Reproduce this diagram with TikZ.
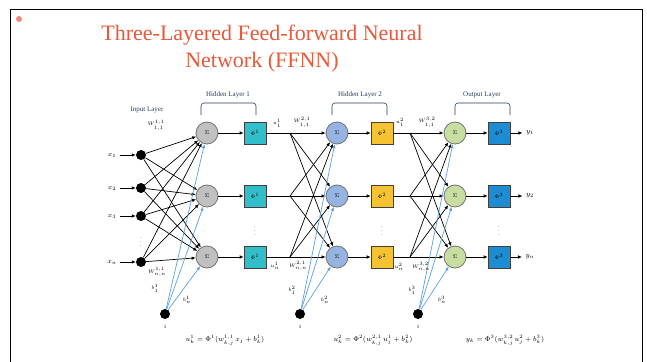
\documentclass[tikz,border=0pt]{standalone}
\usepackage{fontspec}
\setmainfont{Liberation Serif}
\usetikzlibrary{arrows.meta}

\definecolor{titlered}{RGB}{232,88,58}
\definecolor{labelblue}{RGB}{40,60,95}
\definecolor{sumgray}{RGB}{192,192,192}
\definecolor{sumblue}{RGB}{150,180,225}
\definecolor{sumgreen}{RGB}{200,222,160}
\definecolor{phiteal}{RGB}{50,190,200}
\definecolor{phiyellow}{RGB}{245,195,50}
\definecolor{phiblue}{RGB}{30,140,210}
\definecolor{biasblue}{RGB}{90,160,225}

\begin{document}
\begin{tikzpicture}[x=1pt, y=-1pt,
      every node/.style={font=\tiny},
      sumnode/.style={circle, draw=black!55, line width=.8pt, minimum size=22pt, inner sep=0pt},
      phibox/.style={draw=black!75, line width=.6pt, minimum size=22pt, inner sep=0pt},
      dotnode/.style={circle, fill=black, minimum size=10pt, inner sep=0pt},
      wire/.style={line width=.7pt, -{Latex[length=4pt, width=3.5pt]}},
      biaswire/.style={biasblue, line width=.7pt, -{Latex[length=4pt, width=3.5pt]}},
      layerbrace/.style={labelblue, line width=.6pt, rounded corners=3pt},
      layerlabel/.style={labelblue, font=\scriptsize}
    ]
    \useasboundingbox (0,0) rectangle (647,361);
    \draw[line width=1pt] (10,365) |- (642,10) -- (642,365);
    \fill[titlered!70] (19,19) circle (3pt);
    \node[titlered, font=\fontsize{22}{27}\selectfont, align=center] (title) at (262,49)
        {Three-Layered Feed-forward Neural\\Network (FFNN)};

    % layer labels
    \node[layerlabel] (inlayer) at (147,110) {Input Layer};
    \node[layerlabel] (hid1) at (228,95) {Hidden Layer 1};
    \node[layerlabel] (hid2) at (360,95) {Hidden Layer 2};
    \node[layerlabel] (outlayer) at (482,95) {Output Layer};
    \draw[layerbrace] (201,115) -- (201,103) -- (256,103) -- (256,115);
    \draw[layerbrace] (332,115) -- (332,103) -- (387,103) -- (387,115);
    \draw[layerbrace] (455,115) -- (455,103) -- (510,103) -- (510,115);

    % input layer
    \foreach \k/\y in {1/155, 2/188, 3/216, n/262} {
        \node[dotnode] (in-\k) at (141,\y) {};
        \node[font=\scriptsize] (xl-\k) at (112,\y) {$x_\k$};
        \draw[wire] (xl-\k) -- (in-\k);
    }

    % hidden and output rows
    \foreach \k/\y in {1/133, 2/196, n/257} {
        \node[sumnode, fill=sumgray] (s1-\k) at (207,\y) {$\Sigma$};
        \node[phibox, fill=phiteal] (p1-\k) at (255,\y) {$\Phi^1$};
        \coordinate (j1-\k) at (290,\y);
        \node[sumnode, fill=sumblue] (s2-\k) at (337,\y) {$\Sigma$};
        \node[phibox, fill=phiyellow] (p2-\k) at (382,\y) {$\Phi^2$};
        \coordinate (j2-\k) at (410,\y);
        \node[sumnode, fill=sumgreen] (s3-\k) at (455,\y) {$\Sigma$};
        \node[phibox, fill=phiblue] (p3-\k) at (499,\y) {$\Phi^3$};
        \node[font=\scriptsize] (yl-\k) at (530,\y) {$y_\k$};
        \draw[wire] (s1-\k) -- (p1-\k);
        \draw[line width=.7pt] (p1-\k) -- (j1-\k);
        \draw[wire] (s2-\k) -- (p2-\k);
        \draw[line width=.7pt] (p2-\k) -- (j2-\k);
        \draw[wire] (s3-\k) -- (p3-\k);
        \draw[wire] (p3-\k) -- (yl-\k);
    }

    % full connections
    \foreach \i in {1,2,3,n}
        \foreach \k in {1,2,n}
            \draw[wire] (in-\i) -- (s1-\k);
    \foreach \i in {1,2,n}
        \foreach \k in {1,2,n} {
            \draw[wire] (j1-\i) -- (s2-\k);
            \draw[wire] (j2-\i) -- (s3-\k);
        }

    % bias units
    \foreach \l/\x in {1/165, 2/300, 3/418} {
        \node[dotnode] (b\l) at (\x,314) {};
        \node (one\l) at (\x,327) {1};
        \foreach \k in {1,2,n}
            \draw[biaswire] (b\l) -- (s\l-\k);
    }

    \node (vd-in) at (141,239) {$\vdots$};
    \node (vd-p1) at (255,228) {$\vdots$};
    \node (vd-p2) at (382,228) {$\vdots$};
    \node (vd-p3) at (499,228) {$\vdots$};

    % weights, outputs, biases
    \node (w1a) at (156,125) {$W^{1,1}_{1,1}$};
    \node (w1b) at (157,272) {$W^{1,1}_{n,n}$};
    \node (u1a) at (277,123) {$u^1_1$};
    \node (u1b) at (275,266) {$u^1_n$};
    \node (w2a) at (302,122) {$W^{2,1}_{1,1}$};
    \node (w2b) at (298,266) {$W^{2,1}_{n,n}$};
    \node (u2a) at (400,122) {$u^2_1$};
    \node (u2b) at (399,267) {$u^2_n$};
    \node (w3a) at (427,122) {$W^{3,2}_{1,1}$};
    \node (w3b) at (421,267) {$W^{3,2}_{n,n}$};
    \node (bl1a) at (155,288) {$b^1_1$};
    \node (bl1b) at (187,300) {$b^1_n$};
    \node (bl2a) at (292,290) {$b^2_1$};
    \node (bl2b) at (325,300) {$b^2_n$};
    \node (bl3a) at (412,290) {$b^3_1$};
    \node (bl3b) at (442,300) {$b^3_n$};

    % layer equations
    \node[font=\scriptsize] (eq1) at (225,340) {$u^1_k = \Phi^1(w^{1,1}_{k,j}\,x_j + b^1_k)$};
    \node[font=\scriptsize] (eq2) at (373,340) {$u^2_k = \Phi^2(w^{2,1}_{k,j}\,u^1_j + b^2_k)$};
    \node[font=\scriptsize] (eq3) at (505,340) {$y_k = \Phi^3(w^{3,2}_{k,j}\,u^2_j + b^3_k)$};
\end{tikzpicture}
\end{document}
